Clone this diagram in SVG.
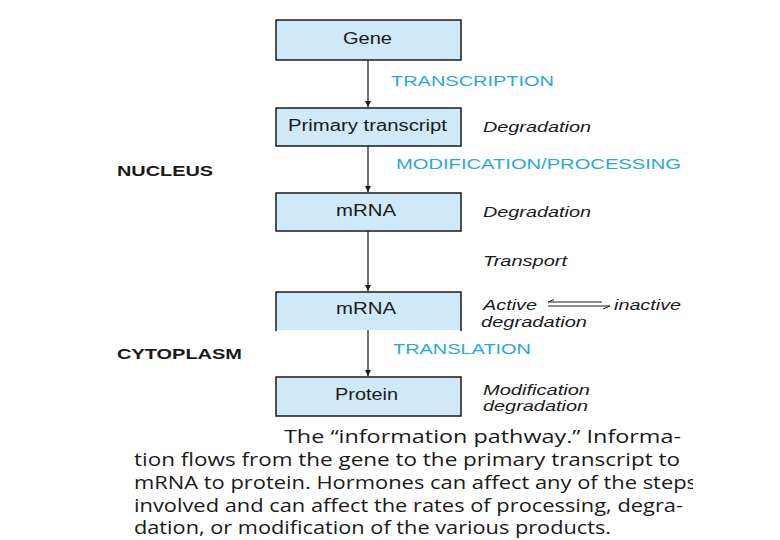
<svg xmlns="http://www.w3.org/2000/svg" width="780" height="540" viewBox="0 0 780 540">
<style>
.box{fill:#cfe9f8;stroke:#1a1a1a;stroke-width:1.5}
.bt{font-family:"Liberation Sans",Arial,sans-serif;font-size:16px;fill:#1a1a1a}
.step{font-family:"Liberation Sans",Arial,sans-serif;font-size:15px;fill:#2aa8dc}
.it{font-family:"Liberation Sans",Arial,sans-serif;font-size:15px;font-style:italic;fill:#1a1a1a}
.reg{font-family:"Liberation Sans",Arial,sans-serif;font-size:15px;font-weight:bold;fill:#1a1a1a}
.cap{font-family:"Open Sans","Noto Sans",sans-serif;font-size:18px;fill:#1a1a1a}
.con{stroke:#1a1a1a;stroke-width:1.2;fill:none}
</style>
<defs>
<marker id="ah" viewBox="0 0 10 10" refX="10" refY="5" markerWidth="6" markerHeight="7" orient="auto" markerUnits="userSpaceOnUse">
<path d="M0,0 L10,5 L0,10 z" fill="#1a1a1a"/>
</marker>
<clipPath id="clip"><rect x="0" y="0" width="693" height="540"/></clipPath>
</defs>
<rect width="780" height="540" fill="#ffffff"/>
<g id="connectors">
<line class="con" x1="368" y1="60" x2="368" y2="107" marker-end="url(#ah)"/>
<line class="con" x1="368" y1="146" x2="368" y2="192" marker-end="url(#ah)"/>
<line class="con" x1="368" y1="231" x2="368" y2="291" marker-end="url(#ah)"/>
<line class="con" x1="368" y1="330" x2="368" y2="376" marker-end="url(#ah)"/>
</g>
<g id="gene">
<rect class="box" x="276" y="20" width="185" height="40"/>
<text class="bt" x="343" y="44" textLength="49" lengthAdjust="spacingAndGlyphs">Gene</text>
</g>
<g id="primary-transcript">
<rect class="box" x="276" y="108" width="185" height="38"/>
<text class="bt" x="288" y="131" textLength="159" lengthAdjust="spacingAndGlyphs">Primary transcript</text>
</g>
<g id="mrna-nucleus">
<rect class="box" x="276" y="193" width="185" height="38"/>
<text class="bt" x="336" y="216" textLength="60" lengthAdjust="spacingAndGlyphs">mRNA</text>
</g>
<g id="mrna-cytoplasm">
<rect x="276" y="292" width="185" height="38" fill="#cfe9f8"/>
<path d="M276,331 V292 H461 V331" fill="none" stroke="#1a1a1a" stroke-width="1.5"/>
<text class="bt" x="336" y="314" textLength="60" lengthAdjust="spacingAndGlyphs">mRNA</text>
</g>
<g id="protein">
<rect class="box" x="276" y="377" width="185" height="39"/>
<text class="bt" x="335" y="400" textLength="63" lengthAdjust="spacingAndGlyphs">Protein</text>
</g>
<g id="labels">
<text class="step" x="391" y="86" textLength="163" lengthAdjust="spacingAndGlyphs">TRANSCRIPTION</text>
<text class="step" x="396" y="169" textLength="285" lengthAdjust="spacingAndGlyphs">MODIFICATION/PROCESSING</text>
<text class="step" x="393" y="354" textLength="138" lengthAdjust="spacingAndGlyphs">TRANSLATION</text>
<text class="reg" x="117" y="176" textLength="96" lengthAdjust="spacingAndGlyphs">NUCLEUS</text>
<text class="reg" x="117" y="359" textLength="125" lengthAdjust="spacingAndGlyphs">CYTOPLASM</text>
<text class="it" x="483" y="132" textLength="108" lengthAdjust="spacingAndGlyphs">Degradation</text>
<text class="it" x="483" y="217" textLength="108" lengthAdjust="spacingAndGlyphs">Degradation</text>
<text class="it" x="483" y="266" textLength="84" lengthAdjust="spacingAndGlyphs">Transport</text>
<text class="it" x="483" y="310" textLength="54" lengthAdjust="spacingAndGlyphs">Active</text>
<text class="it" x="614" y="310" textLength="67" lengthAdjust="spacingAndGlyphs">inactive</text>
<text class="it" x="481" y="327" textLength="106" lengthAdjust="spacingAndGlyphs">degradation</text>
<text class="it" x="483" y="395" textLength="107" lengthAdjust="spacingAndGlyphs">Modification</text>
<text class="it" x="483" y="411" textLength="105" lengthAdjust="spacingAndGlyphs">degradation</text>
<path d="M548,302 H602 M548,302 L554,299.5" fill="none" stroke="#1a1a1a" stroke-width="1"/>
<path d="M548,306 H610 M610,306 L603,309" fill="none" stroke="#1a1a1a" stroke-width="1"/>
</g>
<g id="caption" clip-path="url(#clip)">
<text class="cap" x="284" y="443" textLength="397" lengthAdjust="spacingAndGlyphs">The “information pathway.” Informa-</text>
<text class="cap" x="134" y="466" textLength="546" lengthAdjust="spacingAndGlyphs">tion flows from the gene to the primary transcript to</text>
<text class="cap" x="134" y="489" textLength="563" lengthAdjust="spacingAndGlyphs">mRNA to protein. Hormones can affect any of the steps</text>
<text class="cap" x="134" y="512" textLength="549" lengthAdjust="spacingAndGlyphs">involved and can affect the rates of processing, degra-</text>
<text class="cap" x="134" y="534" textLength="477" lengthAdjust="spacingAndGlyphs">dation, or modification of the various products.</text>
</g>
</svg>
